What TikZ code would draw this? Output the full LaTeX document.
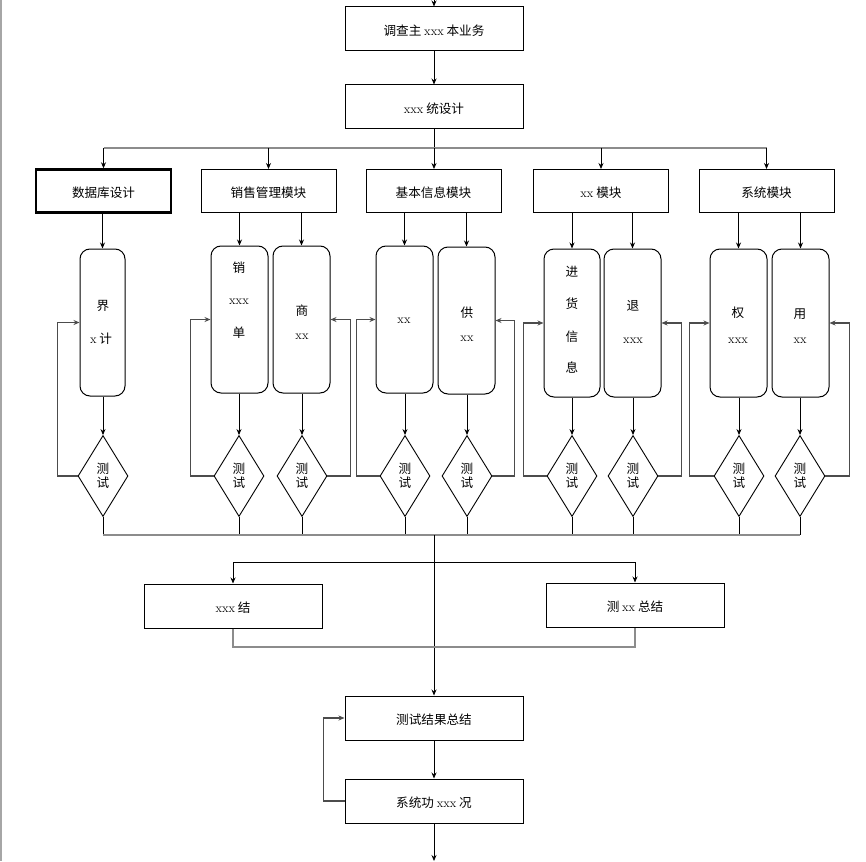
\documentclass[tikz,border=0pt]{standalone}
\usepackage{fontspec}
\newfontfamily\cjk{Noto Sans CJK SC}
\usetikzlibrary{shapes.geometric,arrows.meta}
\newcommand\latx[1]{{\rmfamily #1}}
\begin{document}
\begin{tikzpicture}[x=1pt,y=-1pt,
  txtfont/.style={font=\fontsize{12.6pt}{14pt}\selectfont\cjk},
  rectbox/.style={draw, line width=1pt, minimum width=178pt, minimum height=44pt, inner sep=0pt, text height=14pt, text depth=1.5pt, txtfont},
  modbox/.style={draw, line width=1pt, minimum width=135pt, minimum height=43pt, inner sep=0pt, text height=14pt, text depth=1.5pt, txtfont},
  subbox/.style={draw, line width=1pt, rounded corners=10pt, minimum width=57pt, minimum height=147pt, inner sep=0pt},
  dia/.style={diamond, draw, line width=0.9pt, minimum width=50pt, minimum height=81pt, inner sep=0pt, align=center, txtfont},
  lbl/.style={inner sep=0pt, txtfont},
  arr/.style={-{Stealth[length=6pt,width=5pt]}, line width=0.8pt, black},
  plain/.style={line width=0.8pt, black},
  bus/.style={line width=1.2pt, black!45},
  fb/.style={-{Stealth[length=6pt,width=5pt]}, line width=1.1pt, black!70},
]
\useasboundingbox (0,0) rectangle (866,861);
\fill[white] (0,0) rectangle (866,861);
\draw[black!35, line width=1.5pt] (1,0) -- (1,861);

% main boxes
\node[rectbox] (b1) at (434,29) {调查主 \latx{xxx} 本业务};
\node[rectbox] (b2) at (434,107) {\latx{xxx} 统设计};

% modules
\node[modbox, line width=2.4pt] (m1) at (103.5,191) {数据库设计};
\node[modbox] (m2) at (268.5,191) {销售管理模块};
\node[modbox] (m3) at (433.5,191) {基本信息模块};
\node[modbox] (m4) at (601,191) {\latx{xx} 模块};
\node[modbox] (m5) at (766.5,191) {系统模块};

% sub boxes
\node[subbox, minimum width=45pt] (s1) at (102.5,322.5) {};
\node[subbox] (s2) at (239.5,319.5) {};
\node[subbox] (s3) at (301.5,319.5) {};
\node[subbox] (s4) at (404.5,319.5) {};
\node[subbox] (s5) at (466.5,320.5) {};
\node[subbox, minimum width=56pt, minimum height=148pt] (s6) at (572,323) {};
\node[subbox, minimum height=148pt] (s7) at (632.5,323) {};
\node[subbox, minimum height=148pt] (s8) at (738.5,323) {};
\node[subbox, minimum height=148pt] (s9) at (800.5,323) {};

% sub box labels
\node[lbl] (t1a) at (103,306) {界};
\node[lbl] (t1b) at (101,339) {\latx{x} 计};
\node[lbl] (t2a) at (239,268) {销};
\node[lbl] (t2b) at (239,302) {\latx{xxx}};
\node[lbl] (t2c) at (239,333) {单};
\node[lbl] (t3a) at (302,311) {商};
\node[lbl] (t3b) at (302,337) {\latx{xx}};
\node[lbl] (t4a) at (404,321) {\latx{xx}};
\node[lbl] (t5a) at (467,313) {供};
\node[lbl] (t5b) at (467,339) {\latx{xx}};
\node[lbl] (t6a) at (572,272) {进};
\node[lbl] (t6b) at (572,304) {货};
\node[lbl] (t6c) at (572,337) {信};
\node[lbl] (t6d) at (572,368) {息};
\node[lbl] (t7a) at (633,306) {退};
\node[lbl] (t7b) at (633,341) {\latx{xxx}};
\node[lbl] (t8a) at (738,313) {权};
\node[lbl] (t8b) at (738,341) {\latx{xxx}};
\node[lbl] (t9a) at (800,314) {用};
\node[lbl] (t9b) at (800,341) {\latx{xx}};

% diamonds
\node[dia] (d1) at (103,476) {测\\试};
\node[dia] (d2) at (239,476) {测\\试};
\node[dia] (d3) at (302,476) {测\\试};
\node[dia] (d4) at (405,476) {测\\试};
\node[dia] (d5) at (467,476) {测\\试};
\node[dia] (d6) at (572,476) {测\\试};
\node[dia] (d7) at (633,476) {测\\试};
\node[dia] (d8) at (739,476) {测\\试};
\node[dia] (d9) at (800,476) {测\\试};

% summary boxes
\node[rectbox] (u1) at (233,606) {\latx{xxx} 结};
\node[rectbox] (u2) at (635,605) {测 \latx{xx} 总结};
\node[rectbox] (r1) at (434,718) {测试结果总结};
\node[rectbox] (r2) at (434,801) {系统功 \latx{xxx} 况};

% coordinates
\coordinate (top) at (434,0);
\coordinate (bt) at (434,148);
\coordinate (bb) at (434,535);
\coordinate (br) at (434,562);
\coordinate (bl) at (434,647);
\coordinate (bot) at (434,861);

% top connectors
\draw[arr] (top) -- (b1.north);
\draw[arr] (b1) -- (b2);
\draw[plain] (b2.south) -- (bt);
\draw[bus] (m1.north |- bt) -- (m5.north |- bt);
\foreach \m in {m1,m2,m4,m5} {\draw[arr] (\m.north |- bt) -- (\m.north);}
\draw[arr] (bt) -- (bt |- m3.north);

% module -> sub
\foreach \m/\s in {m1/s1,m2/s2,m2/s3,m3/s4,m3/s5,m4/s6,m4/s7,m5/s8,m5/s9}
  {\draw[arr] (\s.north |- \m.south) -- (\s.north);}

% sub -> diamond
\foreach \i in {1,...,9}
  {\draw[arr] (d\i.north |- s\i.south) -- (d\i.north);}

% feedback loops
\draw[fb] (d1.west) -| ([xshift=-22pt]s1.west) -- (s1.west);
\draw[fb] (d2.west) -| ([xshift=-20pt]s2.west) -- (s2.west);
\draw[fb] (d3.east) -| ([xshift=20pt]s3.east) -- (s3.east);
\draw[fb] (d4.west) -| ([xshift=-19pt]s4.west) -- (s4.west);
\draw[fb] (d5.east) -| ([xshift=19pt]s5.east) -- (s5.east);
\draw[fb] (d6.west) -| ([xshift=-20pt]s6.west) -- (s6.west);
\draw[fb] (d7.east) -| ([xshift=20pt]s7.east) -- (s7.east);
\draw[fb] (d8.west) -| ([xshift=-20pt]s8.west) -- (s8.west);
\draw[fb] (d9.east) -| ([xshift=20pt]s9.east) -- (s9.east);

% bottom bus
\foreach \i in {1,...,9} {\draw[plain] (d\i.south) -- (d\i.south |- bb);}
\draw[bus] (d1.south |- bb) -- (d9.south |- bb);
\draw[arr] (bb) -- (r1.north);
\draw[arr] (br) -| (u1.north);
\draw[arr] (br) -| (u2.north);
\draw[bus] (u1.south) |- (bl) -| (u2.south);

% final part
\draw[arr] (r1) -- (r2);
\draw[fb] (r2.west) -- ++(-21,0) |- (r1.west);
\draw[arr] (r2.south) -- (bot);
\end{tikzpicture}
\end{document}
